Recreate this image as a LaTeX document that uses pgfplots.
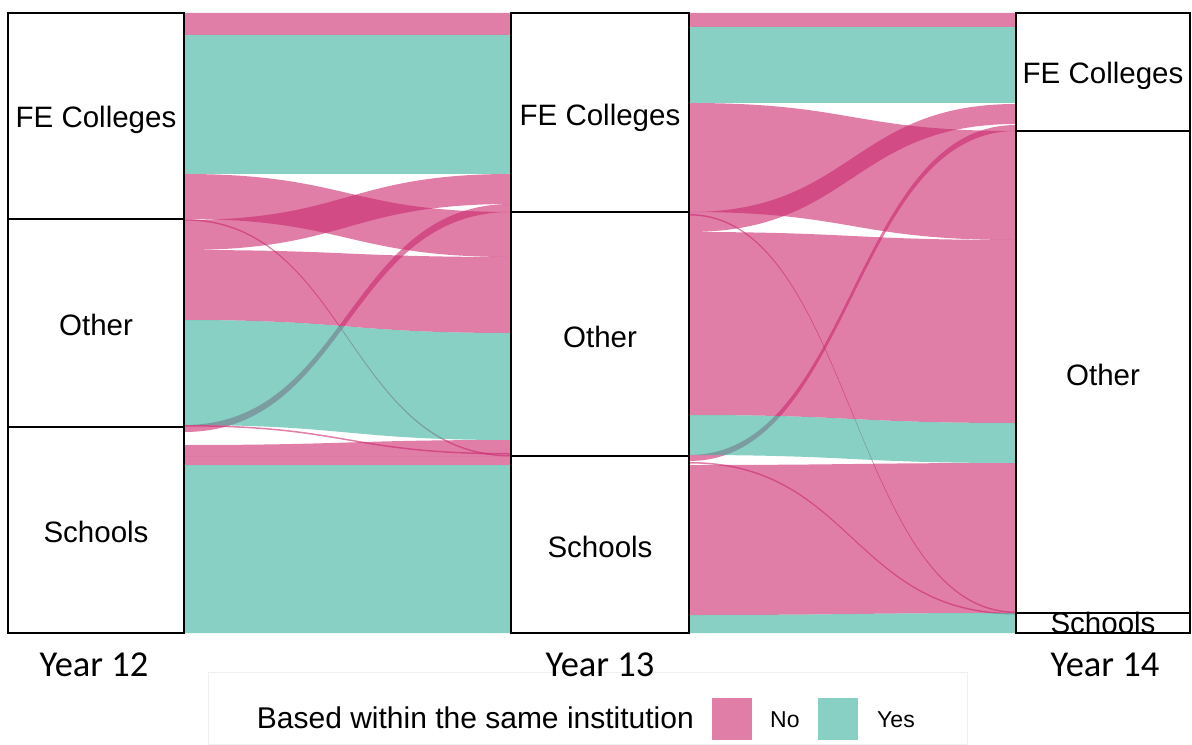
\documentclass[border=0pt]{standalone}
\usepackage{pgfplots}
\pgfplotsset{compat=1.18}
\usepackage{pgfplotstable}
\usepackage{fontspec}
\setmainfont{Liberation Sans}
\newfontfamily\yearfont{Carlito}

\definecolor{noC}{RGB}{203,40,110}
\definecolor{yesC}{RGB}{57,177,157}
\definecolor{noL}{RGB}{224,126,168}
\definecolor{yesL}{RGB}{136,208,196}

% flows: x0 x1 = axis positions, a0 b0 = top/bottom at left, a1 b1 = top/bottom at right (pixel rows)
% pink (No) flows first, teal (Yes) flows drawn over them
\pgfplotstableread{
x0   x1    a0    b0    a1    b1    yes
184  511   13    35    13    35    0
184  511   174   219   212   257   0
184  511   220   250   174   204   0
184  511   250   320   257   333   0
184  511   425   432   204   212   0
184  511   445   456   440   456   0
184  511   456   465   456   465   0
184  511   219   220.5 455   456.5 0
184  511   425   426.5 453   454.5 0
689  1016  13    27    13    27    0
689  1016  103   212   131   240   0
689  1016  212   232   104   124   0
689  1016  232   415   240   423   0
689  1016  455   461   125   131   0
689  1016  465   615   463   613   0
689  1016  214   215.5 611.5 613   0
689  1016  462   463.5 613   614.5 0
184  511   35    174   35    174   1
184  511   320   425   333   440   1
184  511   465   633   465   633   1
689  1016  27    103   27    103   1
689  1016  415   455   423   463   1
689  1016  615   633   613   633   1
}\flows

\begin{document}
\begin{tikzpicture}
\begin{axis}[
  scale only axis,
  width=1192bp, height=745bp,
  xmin=0, xmax=1192, ymin=0, ymax=745,
  y dir=reverse,
  hide axis,
  clip=false,
]
\path (rel axis cs:0,0) rectangle (rel axis cs:1,1);

% faint legend frame, behind everything else
\draw[black!6, line width=1bp] (axis cs:208,672) rectangle (axis cs:967,744.5);

\pgfplotstablegetrowsof{\flows}
\pgfmathtruncatemacro{\nflows}{\pgfplotsretval-1}
\pgfplotsforeachungrouped \i in {0,...,\nflows}{%
  \pgfplotstablegetelem{\i}{x0}\of\flows \let\xa\pgfplotsretval
  \pgfplotstablegetelem{\i}{x1}\of\flows \let\xb\pgfplotsretval
  \pgfplotstablegetelem{\i}{a0}\of\flows \let\ya\pgfplotsretval
  \pgfplotstablegetelem{\i}{b0}\of\flows \let\yb\pgfplotsretval
  \pgfplotstablegetelem{\i}{a1}\of\flows \let\yc\pgfplotsretval
  \pgfplotstablegetelem{\i}{b1}\of\flows \let\yd\pgfplotsretval
  \pgfplotstablegetelem{\i}{yes}\of\flows \let\fy\pgfplotsretval
  \pgfmathsetmacro{\xm}{(\xa+\xb)/2}
  \ifnum\fy=1 \def\fc{yesC}\else\def\fc{noC}\fi
  \edef\temp{\noexpand\fill[\fc, fill opacity=0.6]
    (axis cs:\xa,\ya) .. controls (axis cs:\xm,\ya) and (axis cs:\xm,\yc) .. (axis cs:\xb,\yc)
    -- (axis cs:\xb,\yd) .. controls (axis cs:\xm,\yd) and (axis cs:\xm,\yb) .. (axis cs:\xa,\yb) -- cycle;}
  \temp
}

% strata boxes
\pgfplotsset{every axis plot/.append style={line width=2.4bp}}
\addplot[draw=black] coordinates {(8,13) (184,13) (184,633) (8,633)} -- cycle;
\addplot[black] coordinates {(8,219) (184,219)};
\addplot[black] coordinates {(8,427) (184,427)};
\addplot[draw=black] coordinates {(511,13) (689,13) (689,633) (511,633)} -- cycle;
\addplot[black] coordinates {(511,212) (689,212)};
\addplot[black] coordinates {(511,456) (689,456)};
\addplot[draw=black] coordinates {(1016,13) (1190,13) (1190,633) (1016,633)} -- cycle;
\addplot[black] coordinates {(1016,131) (1190,131)};
\addplot[black] coordinates {(1016,613) (1190,613)};

\tikzset{lab/.style={anchor=base, font=\fontsize{29.5bp}{30bp}\selectfont}}
\node[lab] at (axis cs:96,128) {FE Colleges};
\node[lab] at (axis cs:96,335) {Other};
\node[lab] at (axis cs:96,542) {Schools};
\node[lab] at (axis cs:600,126) {FE Colleges};
\node[lab] at (axis cs:600,347) {Other};
\node[lab] at (axis cs:600,557) {Schools};
\node[lab] at (axis cs:1103,84) {FE Colleges};
\node[lab] at (axis cs:1103,385) {Other};
\node[lab] at (axis cs:1103,633) {Schools};

\tikzset{yr/.style={anchor=base, font=\yearfont\fontsize{36.5bp}{37bp}\selectfont}}
\node[yr] at (axis cs:94,676) {Year 12};
\node[yr] at (axis cs:600,676) {Year 13};
\node[yr] at (axis cs:1105,676) {Year 14};

% legend
\node[anchor=base east, inner sep=0pt, font=\fontsize{30bp}{31bp}\selectfont] at (axis cs:694,728) {Based within the same institution};
\addplot[fill=noL, draw=none] coordinates {(712,698) (752,698) (752,740) (712,740)} -- cycle;
\addplot[fill=yesL, draw=none] coordinates {(818,698) (858,698) (858,740) (818,740)} -- cycle;
\node[anchor=base west, inner sep=0pt, font=\fontsize{23bp}{24bp}\selectfont] at (axis cs:770,727) {No};
\node[anchor=base west, inner sep=0pt, font=\fontsize{23bp}{24bp}\selectfont] at (axis cs:877,727) {Yes};
\end{axis}
\end{tikzpicture}
\end{document}
